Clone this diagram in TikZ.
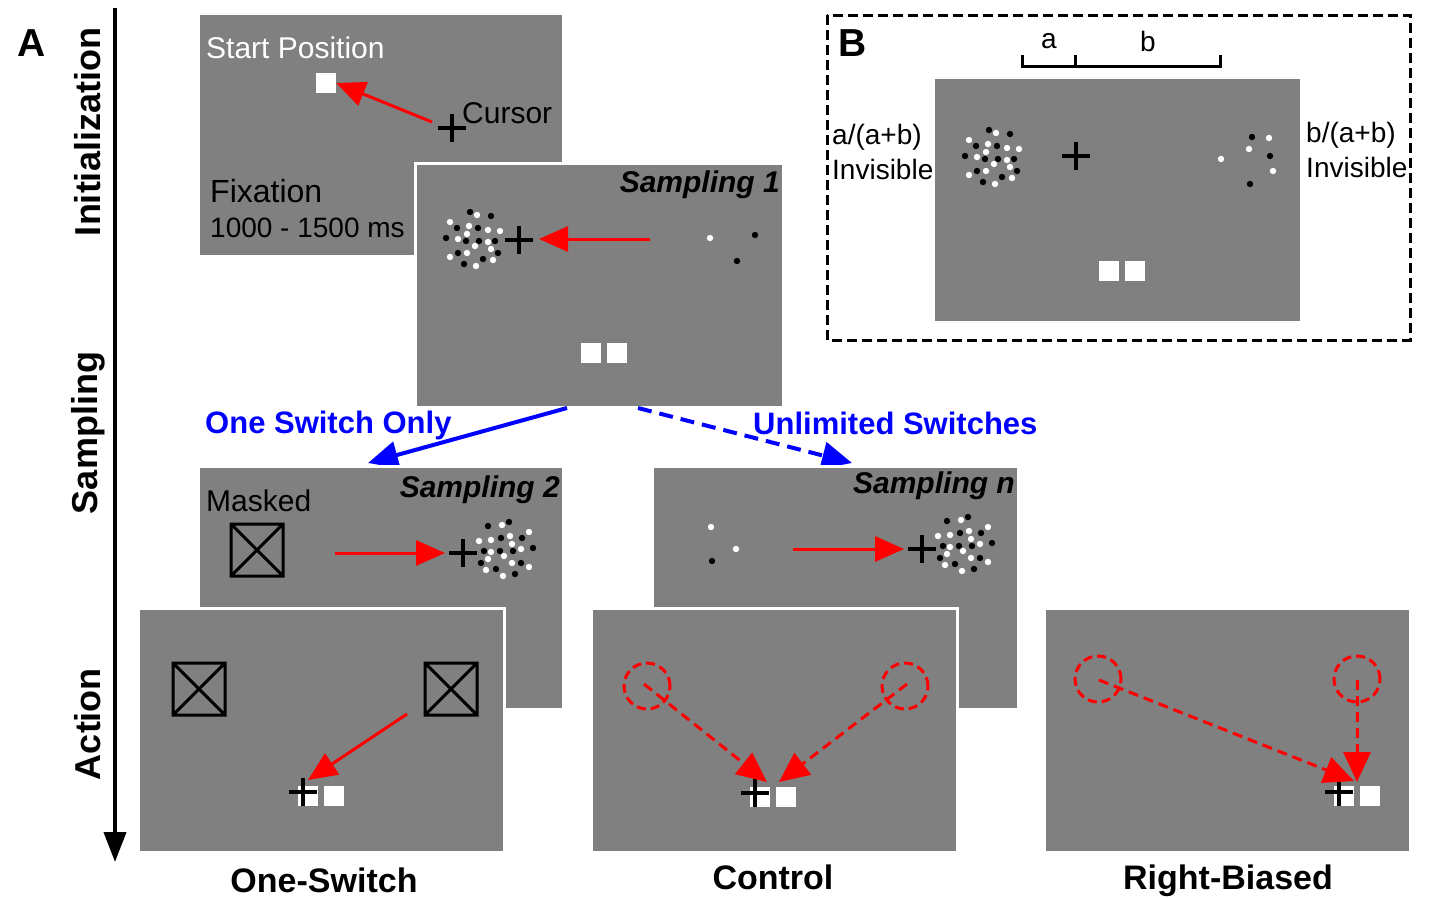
\documentclass[tikz,border=0pt]{standalone}
\usepackage{fontspec}
\setmainfont{Liberation Sans}
\usetikzlibrary{arrows.meta}
\definecolor{scr}{RGB}{128,128,128}
\newcommand{\fs}[1]{\fontsize{#1}{#1}\selectfont}
\begin{document}
\begin{tikzpicture}[x=1pt,y=-1pt,
  panel/.style={fill=scr, draw=white, line width=3pt, inner sep=0pt, outer sep=0pt,
                minimum width=365pt, minimum height=243pt, anchor=north west},
  txt/.style={inner sep=0pt, anchor=west},
  redarr/.style={red, line width=3pt, -{Triangle[length=29pt,width=25pt]}},
  reddash/.style={red, line width=3pt, dash pattern=on 10pt off 6pt, -{Triangle[length=30pt,width=27pt]}},
  redcirc/.style={red, line width=3pt, dash pattern=on 9pt off 5pt},
  bluearr/.style={blue, line width=4pt, -{Triangle[length=30pt,width=27pt]}},
  sq/.style={fill=white, draw=none, minimum size=20pt, inner sep=0pt},
  cross/.pic={\draw[line width=3.2pt] (-14,0)--(14,0) (0,-14)--(0,14);},
  mask/.pic={\draw[line width=3pt] (-26,-26) rectangle (26,26) (-26,-26)--(26,26) (-26,26)--(26,-26);},
  cluster/.pic={
    \foreach \dx/\dy/\c in {-3/-27/black,4/-24/white,18/-23/black,-23/-17/white,-16/-11/black,
      -4/-13/white,5/-11/black,15/-9/white,27/-8/white,-27/-1/black,-15/0/white,-6/-5/white,
      -7/2/black,6/2/black,15/3/white,22/2/black,2/7/white,18/10/white,-15/14/black,-6/14/white,
      25/14/black,-23/18/white,10/20/black,20/21/white,-9/25/black,3/27/white}
      \fill[\c] (\dx,\dy) circle (3.2pt);}
]
\useasboundingbox (0,0) rectangle (1437,897);
\fill[white] (0,0) rectangle (1437,897);

% ---------- left axis ----------
\coordinate (axtop) at (115,8);
\coordinate (axbot) at (115,862);
\draw[line width=4pt, -{Triangle[length=30pt,width=22pt]}] (axtop) -- (axbot);
\node[inner sep=0pt, font=\fs{39}\bfseries] (lA) at (32,43) {A};
\node[inner sep=0pt, rotate=90, font=\fs{36}\bfseries] (lInit) at (88,132) {Initialization};
\node[inner sep=0pt, rotate=90, font=\fs{36}\bfseries] (lSamp) at (88,433) {Sampling};
\node[inner sep=0pt, rotate=90, font=\fs{36}\bfseries] (lAct) at (88,724) {Action};

% ---------- Fixation panel ----------
\node[panel] (fix) at (198,13) {};
\node[txt, white, font=\fs{30}] (tstart) at (206,48) {Start Position};
\node[sq] (startsq) at (326,83) {};
\pic at (452,128) {cross};
\coordinate (cur) at (432,122);
\node[txt, font=\fs{30}] (tcur) at (462,113) {Cursor};
\node[txt, font=\fs{32}] (tfix) at (210,191) {Fixation};
\node[txt, font=\fs{28}] (ttime) at (210,228) {1000 - 1500 ms};
\draw[redarr] (cur) -- (startsq.east);

% ---------- Sampling 1 panel ----------
\node[panel, minimum width=368pt, minimum height=244pt] (s1) at (415,163) {};
\node[inner sep=0pt, anchor=east, font=\fs{30}\bfseries\itshape] (ts1) at (780,185) {Sampling 1};
\pic at (473,239) {cluster};
\pic at (519,240) {cross};
\coordinate (s1a) at (650,239);
\coordinate (s1b) at (539,239);
\draw[redarr] (s1a) -- (s1b);
\fill[white] (710,238) circle (3.2pt);
\fill[black] (755,235) circle (3.2pt);
\fill[black] (737,261) circle (3.2pt);
\node[sq] (s1q1) at (591,353) {};
\node[sq] (s1q2) at (617,353) {};

% ---------- blue branches ----------
\coordinate (bl1) at (567,408);
\coordinate (bl2) at (368,463);
\coordinate (br1) at (638,408);
\coordinate (br2) at (852,463);
\draw[bluearr] (bl1) -- (bl2);
\draw[bluearr, dash pattern=on 14pt off 8pt] (br1) -- (br2);
\node[txt, blue, font=\fs{31}\bfseries] (tone) at (205,425) {One Switch Only};
\node[txt, blue, font=\fs{31}\bfseries] (tunl) at (753,423) {Unlimited Switches};

% ---------- Sampling 2 panel ----------
\node[panel] (s2) at (198,466) {};
\node[txt, font=\fs{30}] (tmask) at (206,501) {Masked};
\pic at (257,550) {mask};
\node[inner sep=0pt, anchor=east, font=\fs{30}\bfseries\itshape] (ts2) at (560,490) {Sampling 2};
\coordinate (s2a) at (335,553);
\coordinate (s2b) at (445,553);
\draw[redarr] (s2a) -- (s2b);
\pic at (463,553) {cross};
\pic[xscale=-1] at (506,549) {cluster};

% ---------- Sampling n panel ----------
\node[panel, minimum width=366pt] (sn) at (652,466) {};
\node[inner sep=0pt, anchor=east, font=\fs{30}\bfseries\itshape] (tsn) at (1015,486) {Sampling n};
\fill[white] (711,527) circle (3.2pt);
\fill[white] (736,549) circle (3.2pt);
\fill[black] (712,561) circle (3.2pt);
\coordinate (sna) at (793,549);
\coordinate (snb) at (904,549);
\draw[redarr] (sna) -- (snb);
\pic at (922,549) {cross};
\pic[xscale=-1] at (965,544) {cluster};

% ---------- Action: One-Switch ----------
\node[panel, minimum width=366pt, minimum height=244pt] (a1) at (138,608) {};
\pic at (199,689) {mask};
\pic at (451,689) {mask};
\node[sq] (a1q1) at (308,796) {};
\node[sq] (a1q2) at (334,796) {};
\pic at (303,792) {cross};
\coordinate (a1s) at (407,714);
\coordinate (a1t) at (308,780);
\draw[redarr] (a1s) -- (a1t);
\node[inner sep=0pt, anchor=base, font=\fs{34}\bfseries] (tos) at (324,892) {One-Switch};

% ---------- Action: Control ----------
\node[panel, minimum width=366pt, minimum height=244pt] (a2) at (591,608) {};
\draw[redcirc] (647,686) circle (23pt);
\draw[redcirc] (905,686) circle (23pt);
\node[sq] (a2q1) at (760,797) {};
\node[sq] (a2q2) at (786,797) {};
\pic at (755,793) {cross};
\coordinate (c1s) at (644,684);
\coordinate (c1t) at (767,782);
\coordinate (c2s) at (907,684);
\coordinate (c2t) at (779,782);
\draw[reddash] (c1s) -- (c1t);
\draw[reddash] (c2s) -- (c2t);
\node[inner sep=0pt, anchor=base, font=\fs{34}\bfseries] (tctl) at (773,889) {Control};

% ---------- Action: Right-Biased ----------
\node[panel, minimum width=366pt, minimum height=244pt] (a3) at (1044,608) {};
\draw[redcirc] (1098,679) circle (23pt);
\draw[redcirc] (1357,679) circle (23pt);
\node[sq] (a3q1) at (1344,796) {};
\node[sq] (a3q2) at (1370,796) {};
\pic at (1339,792) {cross};
\coordinate (r1s) at (1099,680);
\coordinate (r1t) at (1354,781);
\coordinate (r2s) at (1357,680);
\coordinate (r2t) at (1357,782);
\draw[reddash] (r1s) -- (r1t);
\draw[reddash] (r2s) -- (r2t);
\node[inner sep=0pt, anchor=base, font=\fs{34}\bfseries] (trb) at (1228,889) {Right-Biased};

% ---------- Panel B ----------
\draw[line width=3pt, dash pattern=on 10pt off 5pt] (827,15) rectangle (1410,340);
\node[inner sep=0pt, font=\fs{39}\bfseries] (lB) at (853,43) {B};
\node[panel, minimum width=365pt, minimum height=242pt, draw=none] (bp) at (935,79) {};
\draw[line width=3pt] (1022,55) -- (1022,66) -- (1220,66) -- (1220,55);
\draw[line width=3pt] (1075,55) -- (1075,66);
\node[inner sep=0pt, font=\fs{28}] (ta) at (1049,41) {a};
\node[inner sep=0pt, font=\fs{28}] (tb) at (1148,41) {b};
\pic at (992,157) {cluster};
\pic at (1076,156) {cross};
\fill[black] (1252,137) circle (3.2pt);
\fill[white] (1269,138) circle (3.2pt);
\fill[white] (1249,149) circle (3.2pt);
\fill[black] (1270,156) circle (3.2pt);
\fill[white] (1221,159) circle (3.2pt);
\fill[white] (1273,171) circle (3.2pt);
\fill[black] (1250,184) circle (3.2pt);
\node[sq] (bq1) at (1109,271) {};
\node[sq] (bq2) at (1135,271) {};
\node[txt, font=\fs{28}] (tab1) at (832,137) {a/(a+b)};
\node[txt, font=\fs{28}] (tab2) at (832,169) {Invisible};
\node[txt, font=\fs{28}] (tbb1) at (1306,135) {b/(a+b)};
\node[txt, font=\fs{28}] (tbb2) at (1306,167) {Invisible};
\end{tikzpicture}
\end{document}
